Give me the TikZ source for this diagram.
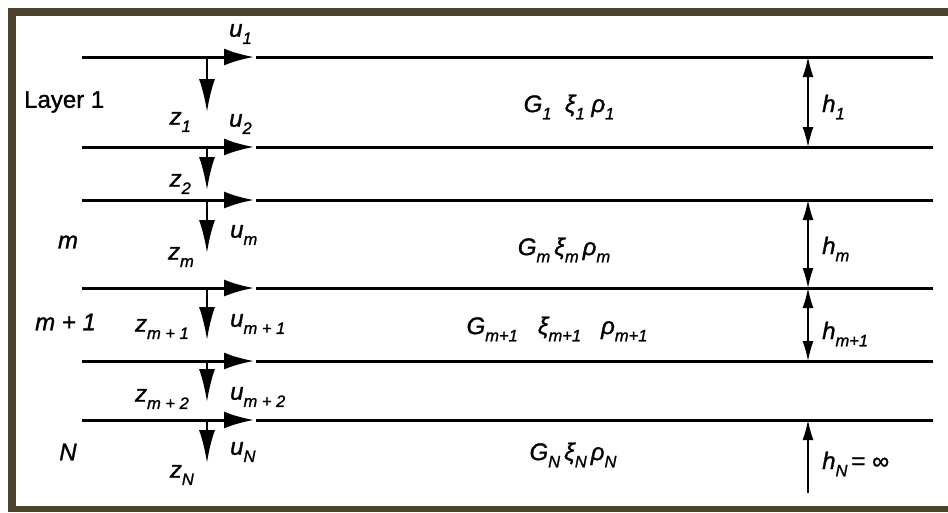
\documentclass[tikz,border=0pt]{standalone}
\usepackage{fontspec}
\setmainfont{Liberation Sans}[FakeBold=1.2]
\usetikzlibrary{arrows.meta}
\newcommand{\sv}[2]{{\itshape #1\raisebox{-0.3em}{\fontsize{16.5}{16.5}\selectfont\itshape #2}}}
\begin{document}
\begin{tikzpicture}[x=1pt,y=-1pt,
  lay/.style={line width=3pt,black},
  utip/.style={lay,-{Latex[length=30pt,width=17pt]}},
  ztip/.style={line width=2.5pt,-{Latex[length=33pt,width=16pt]}},
  hdim/.style={line width=1.4pt,{Latex[length=20pt,width=11pt]}-{Latex[length=20pt,width=11pt]}},
  hone/.style={line width=1.4pt,-{Latex[length=20pt,width=11pt]}},
  lbl/.style={inner sep=0pt,font=\fontsize{24}{28}\selectfont}]
\useasboundingbox (0,0) rectangle (948,512);
\fill[white] (0,0) rectangle (948,512);
\fill[fill={rgb,255:red,75;green,66;blue,44}] (8,8) rectangle (948,512);
\fill[white] (16,16) rectangle (948,506);
% layer lines
\foreach \i/\y/\e in {1/57/112,2/147/190,3/200/253,4/288/340,5/361/402,6/420/463}{
  \coordinate (L\i a) at (82,\y);
  \coordinate (L\i m) at (254,\y);
  \coordinate (L\i b) at (933,\y);
  \coordinate (L\i v) at (207,\y);
  \coordinate (Z\i) at (207,\e);
  \draw[utip] (L\i a) -- (L\i m);
  \draw[lay] ([xshift=2pt]L\i m) -- (L\i b);
  \draw[ztip] (L\i v) -- (Z\i);
}
% left labels
\node[lbl,anchor=west] (lay1) at (24,102) {Layer 1};
\node[lbl] (lm) at (68,242) {\itshape m};
\node[lbl,anchor=west] (lm1) at (35,322) {\itshape m + 1};
\node[lbl] (lN) at (68,452) {\itshape N};
% u labels
\node[lbl,anchor=west] (u1) at (229,34) {\sv{u}{1}};
\node[lbl,anchor=west] (u2) at (229,124) {\sv{u}{2}};
\node[lbl,anchor=west] (um) at (230,235) {\sv{u}{m}};
\node[lbl,anchor=west] (um1) at (230,324) {\sv{u}{m + 1}};
\node[lbl,anchor=west] (um2) at (230,397) {\sv{u}{m + 2}};
\node[lbl,anchor=west] (uN) at (230,452) {\sv{u}{N}};
% z labels
\node[lbl,anchor=east] (z1) at (191,122) {\sv{z}{1}};
\node[lbl,anchor=east] (z2) at (191,184) {\sv{z}{2}};
\node[lbl,anchor=east] (zm) at (194,257) {\sv{z}{m}};
\node[lbl,anchor=east] (zm1) at (189,329) {\sv{z}{m + 1}};
\node[lbl,anchor=east] (zm2) at (189,399) {\sv{z}{m + 2}};
\node[lbl,anchor=east] (zN) at (194,475) {\sv{z}{N}};
% properties
\node[lbl] (p1) at (569,107) {\sv{G}{1}\ \ \sv{ξ}{1}\ \sv{ρ}{1}};
\node[lbl] (pm) at (564,250) {\sv{G}{m}\,\sv{ξ}{m}\,\sv{ρ}{m}};
\node[lbl] (pm1) at (557,329) {\sv{G}{m+1}\ \ \ \sv{ξ}{m+1}\ \ \ \sv{ρ}{m+1}};
\node[lbl] (pN) at (573,455) {\sv{G}{N}\,\sv{ξ}{N}\,\sv{ρ}{N}};
% thickness arrows
\coordinate (hN0) at (808,493);
\draw[hdim] (808,57) -- (808,147);
\draw[hdim] (808,200) -- (808,288);
\draw[hdim] (808,288) -- (808,361);
\draw[hone] (hN0) -- (808,420);
\node[lbl,anchor=west] (h1) at (822,107) {\sv{h}{1}};
\node[lbl,anchor=west] (hm) at (822,249) {\sv{h}{m}};
\node[lbl,anchor=west] (hm1) at (822,334) {\sv{h}{m+1}};
\node[lbl,anchor=west] (hN) at (822,464) {\sv{h}{N}\,= ∞};
\end{tikzpicture}
\end{document}
